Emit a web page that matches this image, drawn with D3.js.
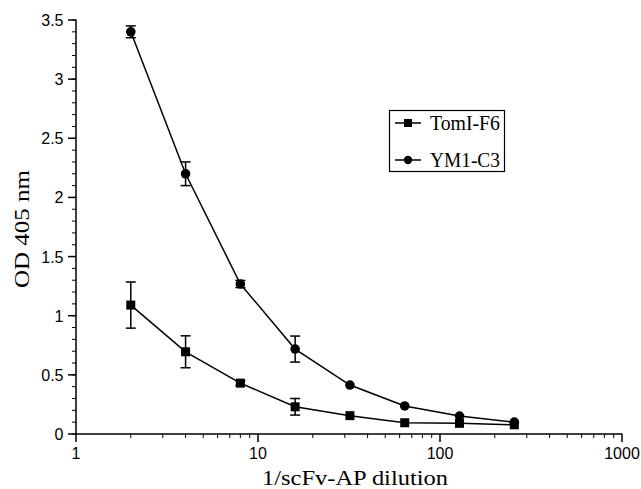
<!DOCTYPE html>
<html><head><meta charset="utf-8">
<script src="https://cdn.jsdelivr.net/npm/d3@7"></script>
<style>body{margin:0;background:#fff}svg{display:block}</style>
</head><body>
<script>
const dilution = [2, 4, 8, 16, 32, 64, 128, 256];
const tomValues = [1.09, 0.695, 0.43, 0.23, 0.155, 0.095, 0.09, 0.078];
const tomErrors = [0.195, 0.135, 0.02, 0.07, 0.01, 0.01, 0.01, 0.01];
const ymValues = [3.40, 2.20, 1.268, 0.718, 0.414, 0.237, 0.152, 0.10];
const ymErrors = [0.05, 0.10, 0.03, 0.11, 0.01, 0.01, 0.01, 0.01];
const xTicks = [1, 10, 100, 1000];
const yTicks = [0, 0.5, 1, 1.5, 2, 2.5, 3, 3.5];
const seriesNames = ["TomI-F6", "YM1-C3"];

const W = 641, H = 489;
const svg = d3.select("body").append("svg").attr("width", W).attr("height", H);
const x = d3.scaleLog().domain([1, 1000]).range([76, 622]);
const y = d3.scaleLinear().domain([0, 3.5]).range([434, 20]);

// axes
const gx = svg.append("g").attr("transform", "translate(0,434)");
gx.append("line").attr("x1", 75).attr("x2", 622.5).attr("stroke", "#000").attr("stroke-width", 1.5);
const minorX = [];
for (let d = 1; d < 1000; d *= 10) for (let k = 2; k <= 9; k++) minorX.push(d * k);
gx.selectAll(".mx").data(minorX).join("line").attr("x1", d => x(d)).attr("x2", d => x(d))
  .attr("y1", 0).attr("y2", 4).attr("stroke", "#000").attr("stroke-width", 1);
gx.selectAll(".Mx").data(xTicks).join("line").attr("x1", d => x(d)).attr("x2", d => x(d))
  .attr("y1", 0).attr("y2", 8).attr("stroke", "#000").attr("stroke-width", 1.5);
gx.selectAll("text").data(xTicks).join("text").attr("x", d => x(d)).attr("y", 24.5)
  .attr("text-anchor", "middle").attr("font-family", "Liberation Sans, Arial, sans-serif")
  .attr("font-size", 16).text(d => d);

const gy = svg.append("g");
gy.append("line").attr("x1", 76).attr("x2", 76).attr("y1", 19.5).attr("y2", 434).attr("stroke", "#000").attr("stroke-width", 1.5);
const minorY = d3.range(0, 36).map(i => i / 10);
gy.selectAll(".my").data(minorY).join("line").attr("x1", 72).attr("x2", 76)
  .attr("y1", d => y(d)).attr("y2", d => y(d)).attr("stroke", "#000").attr("stroke-width", 1);
gy.selectAll(".My").data(yTicks).join("line").attr("x1", 68).attr("x2", 76)
  .attr("y1", d => y(d)).attr("y2", d => y(d)).attr("stroke", "#000").attr("stroke-width", 1.5);
gy.selectAll("text").data(yTicks).join("text").attr("x", 63.5).attr("y", d => y(d) + 6)
  .attr("text-anchor", "end").attr("font-family", "Liberation Sans, Arial, sans-serif")
  .attr("font-size", 16).text(d => d);

// titles
svg.append("text").attr("x", 262).attr("y", 485)
  .attr("font-family", "Liberation Serif, Times New Roman, serif").attr("font-size", 21)
  .attr("textLength", 186).attr("lengthAdjust", "spacingAndGlyphs")
  .text("1/scFv-AP dilution");
svg.append("text").attr("transform", "translate(29,288) rotate(-90)")
  .attr("font-family", "Liberation Serif, Times New Roman, serif").attr("font-size", 22)
  .attr("textLength", 118).attr("lengthAdjust", "spacingAndGlyphs")
  .text("OD 405 nm");

const line = d3.line().x(d => x(d[0])).y(d => y(d[1]));
function drawSeries(vals, errs, shape) {
  const data = dilution.map((d, i) => [d, vals[i], errs[i]]);
  const g = svg.append("g");
  g.append("path").attr("d", line(data)).attr("fill", "none").attr("stroke", "#000").attr("stroke-width", 1.5);
  data.forEach(d => {
    const cx = x(d[0]), t = y(d[1] + d[2]), b = y(d[1] - d[2]);
    if (d[2] > 0.03) {
      g.append("line").attr("x1", cx).attr("x2", cx).attr("y1", t).attr("y2", b).attr("stroke", "#000").attr("stroke-width", 1.5);
      [t, b].forEach(v => g.append("line").attr("x1", cx - 5).attr("x2", cx + 5).attr("y1", v).attr("y2", v).attr("stroke", "#000").attr("stroke-width", 1.5));
    } else if (d[2] > 0.015) {
      [t, b].forEach(v => g.append("line").attr("x1", cx - 5).attr("x2", cx + 5).attr("y1", v).attr("y2", v).attr("stroke", "#000").attr("stroke-width", 1.5));
    }
    if (shape === "square") g.append("rect").attr("x", cx - 4.5).attr("y", y(d[1]) - 4.5).attr("width", 9).attr("height", 9);
    else g.append("circle").attr("cx", cx).attr("cy", y(d[1])).attr("r", 4.8);
  });
}
drawSeries(tomValues, tomErrors, "square");
drawSeries(ymValues, ymErrors, "circle");

// legend
const lg = svg.append("g");
lg.append("rect").attr("x", 389.5).attr("y", 110.5).attr("width", 115).attr("height", 61)
  .attr("fill", "#fff").attr("stroke", "#000").attr("stroke-width", 1.2);
seriesNames.forEach((n, i) => {
  const ly = 123 + i * 37;
  lg.append("line").attr("x1", 395).attr("x2", 421).attr("y1", ly).attr("y2", ly).attr("stroke", "#000").attr("stroke-width", 1.5);
  if (i === 0) lg.append("rect").attr("x", 404).attr("y", ly - 4).attr("width", 8).attr("height", 8);
  else lg.append("circle").attr("cx", 408).attr("cy", ly).attr("r", 4.2);
  lg.append("text").attr("x", 430).attr("y", ly + 7).attr("font-family", "Liberation Serif, Times New Roman, serif")
    .attr("font-size", 20).attr("textLength", 70).attr("lengthAdjust", "spacingAndGlyphs").text(n);
});
</script>
</body></html>
